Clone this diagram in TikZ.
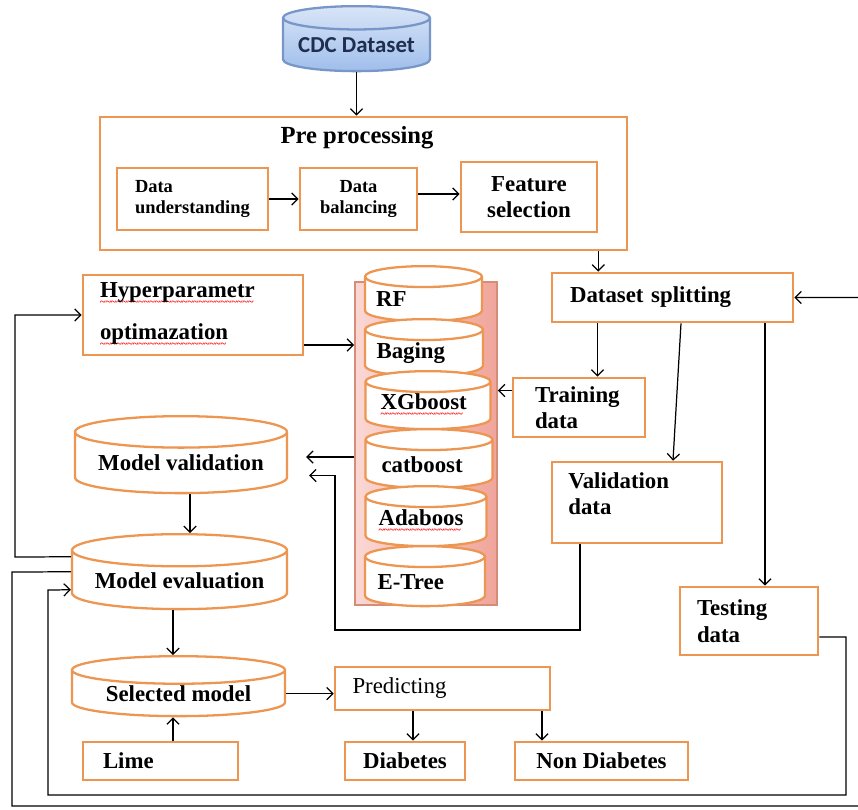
\documentclass[tikz,border=0pt]{standalone}
\usepackage{fontspec}
\setmainfont{Liberation Serif}
\newfontfamily\cdcfont{Carlito}
\usetikzlibrary{shapes.geometric,arrows.meta,calc}
\definecolor{boxorange}{RGB}{236,150,82}
\definecolor{cdcline}{RGB}{120,150,200}
\definecolor{cdctext}{RGB}{30,45,80}
\newcommand\spl[1]{\leavevmode\hbox{\setbox0\hbox{#1}\rlap{\color{red}\leaders\hbox{\raisebox{-4.5pt}{\fontsize{6}{6}\selectfont\char"007E}}\hskip\wd0}\box0}}

\tikzset{
  box/.style={rectangle, draw=boxorange, line width=1.5pt, fill=white, inner sep=0pt,
    align=center, font=\bfseries\fontsize{13}{15}\selectfont},
  lbox/.style={box, align=left},
  small/.style={font=\bfseries\fontsize{10.5}{12.5}\selectfont},
  title/.style={font=\bfseries\fontsize{14}{16}\selectfont},
  cyl/.style={cylinder, shape border rotate=90, draw=boxorange, line width=1.3pt, fill=white,
    inner sep=0pt, anchor=north, font=\bfseries\fontsize{13}{15}\selectfont},
  mcyl/.style={cyl, aspect=0.22, text width=1.9cm, align=left},
  arr/.style={-{Straight Barb[length=3.5pt,width=7pt]}, line width=0.7pt}
}

\begin{document}
\begin{tikzpicture}[x=0.02cm,y=-0.02cm]
  \useasboundingbox (0,0) rectangle (858,809);

  \node[cyl, aspect=0.2, draw=cdcline, top color={rgb,255:red,216;green,229;blue,247},
    bottom color={rgb,255:red,160;green,190;blue,235}, text=cdctext,
    font=\cdcfont\bfseries\fontsize{13}{15}\selectfont,
    minimum width=2.94cm, minimum height=1.3cm] (cdc) at (356.5,5) {CDC Dataset};

  \node[box, minimum width=10.54cm, minimum height=2.66cm] (pre) at (363.5,183.5) {};
  \node[title] (pretitle) at (357,138) {Pre processing};
  \node[lbox, small, text width=2.3cm, minimum width=3.02cm, minimum height=1.24cm] (du) at (192.5,199) {Data\\understanding};
  \node[box, small, minimum width=2.34cm, minimum height=1.24cm] (db) at (358.5,199) {Data\\balancing};
  \node[box, minimum width=2.72cm, minimum height=1.4cm] (fs) at (529,197) {Feature\\selection};

  \node[lbox, text width=3.72cm, minimum width=4.4cm, minimum height=1.6cm] (hyp) at (193,315)
    {\spl{Hyperparametr}\\[9pt]\spl{optimazation}};
  \node[lbox, text width=4.1cm, minimum width=4.82cm, minimum height=0.98cm] (ds) at (672.5,297.5) {Dataset splitting};
  \node[lbox, text width=1.76cm, minimum width=2.64cm, minimum height=1.18cm] (train) at (579,407.5) {Training\\data};
  \node[box, minimum width=3.4cm, minimum height=1.62cm] (valid) at (637,502.5) {};
  \node[anchor=north west, align=left, inner sep=0pt, font=\bfseries\fontsize{13}{15}\selectfont] (validtxt) at (568,472) {Validation\\data};
  \node[lbox, text width=2.08cm, minimum width=2.76cm, minimum height=1.36cm] (test) at (749,621) {Testing\\data};

  \node[rectangle, draw={rgb,255:red,214;green,140;blue,120}, line width=1pt,
    left color={rgb,255:red,250;green,215;blue,212}, right color={rgb,255:red,240;green,165;blue,155},
    minimum width=2.84cm, minimum height=6.46cm] (stack) at (426,443.5) {};
  \node[mcyl, minimum width=2.34cm, minimum height=1.1cm] (rf) at (423.5,265) {RF};
  \node[mcyl, minimum width=2.36cm, minimum height=1.14cm] (bag) at (424,318) {Baging};
  \node[mcyl, minimum width=2.5cm, minimum height=1.16cm] (xgb) at (428,370) {\spl{XGboost}};
  \node[mcyl, minimum width=2.54cm, minimum height=1.18cm] (cat) at (429,428) {catboost};
  \node[mcyl, minimum width=2.42cm, minimum height=1.2cm] (ada) at (426,485) {\spl{Adaboos}};
  \node[mcyl, minimum width=2.4cm, minimum height=1.2cm] (etree) at (425,545) {E-Tree};

  \node[cyl, aspect=0.19, minimum width=4.24cm, minimum height=1.54cm] (mval) at (181,415) {Model validation};
  \node[cyl, aspect=0.19, minimum width=4.3cm, minimum height=1.5cm] (meval) at (179.5,533) {Model evaluation};
  \node[cyl, aspect=0.19, minimum width=4.26cm, minimum height=1.2cm] (sel) at (178.5,655) {Selected model};
  \node[lbox, text width=2.3cm, minimum width=3.1cm, minimum height=0.76cm] (lime) at (160.5,761) {Lime};
  \node[lbox, text width=3.6cm, minimum width=4.3cm, minimum height=0.86cm,
    font=\fontsize{13}{15}\selectfont] (pred) at (442.5,688.5) {Predicting};
  \node[box, minimum width=2.4cm, minimum height=0.76cm] (diab) at (405,761) {Diabetes};
  \node[box, minimum width=3.46cm, minimum height=0.76cm] (nondiab) at (601.5,761) {Non Diabetes};

  \draw[arr] (cdc.south) -- (cdc.south |- pre.north);
  \draw[arr] (du.east) -- (db.west);
  \draw[arr] ([yshift=0.1cm]db.east) -- ([yshift=0.1cm]db.east -| fs.west);
  \draw[arr] ([xshift=-0.6cm]pre.south east) -- ([xshift=-0.6cm]pre.south east |- ds.north);
  \draw[arr] ([xshift=-1.5cm]ds.south) -- ([xshift=-1.5cm]ds.south |- train.north);
  \draw[arr] ([xshift=0.17cm]ds.south) -- ([xshift=0.72cm]valid.north);
  \draw[arr] ([xshift=1.85cm]ds.south) -- ([xshift=1.85cm]ds.south |- test.north);
  \draw[arr] ([yshift=0.34cm]train.west) -- ([yshift=0.34cm]train.west -| stack.east);
  \draw[arr] ([yshift=-0.6cm]hyp.east) -- ([yshift=-0.6cm]hyp.east -| stack.west);
  \draw[arr, shorten >=0.36cm] ([yshift=0.12cm]stack.west |- mval.east) -- ([yshift=0.12cm]mval.east);
  \draw[arr] ([xshift=-1.14cm]valid.south) |- (335,630) |- ([xshift=0.42cm,yshift=-0.25cm]mval.east);
  \draw[arr] ([xshift=0.18cm]mval.south) -- ([xshift=0.18cm]mval.south |- meval.north);
  \draw[arr] ([xshift=-0.13cm]meval.south) -- ([xshift=-0.13cm]meval.south |- sel.north);
  \draw[arr] ([xshift=0.25cm]lime.north) -- ([xshift=0.25cm]lime.north |- sel.south);
  \draw[arr] (sel.east) -- (sel.east -| pred.west);
  \draw[arr] ([xshift=-0.59cm]pred.south) -- ([xshift=-0.59cm]pred.south |- diab.north);
  \draw[arr] ([xshift=1.99cm]pred.south) -- ([xshift=1.99cm]pred.south |- nondiab.north);
  \draw[arr] ([yshift=0.47cm]meval.west) -- (15,557) |- (hyp.west);
  \draw[arr] ([yshift=0.17cm]meval.west) -- (12,572) |- (862,806) |- (ds.east);
  \draw[arr] ([yshift=-0.32cm]test.east) -| (846,795) -| (48,590) -- ([yshift=-0.19cm]meval.west);
\end{tikzpicture}
\end{document}
